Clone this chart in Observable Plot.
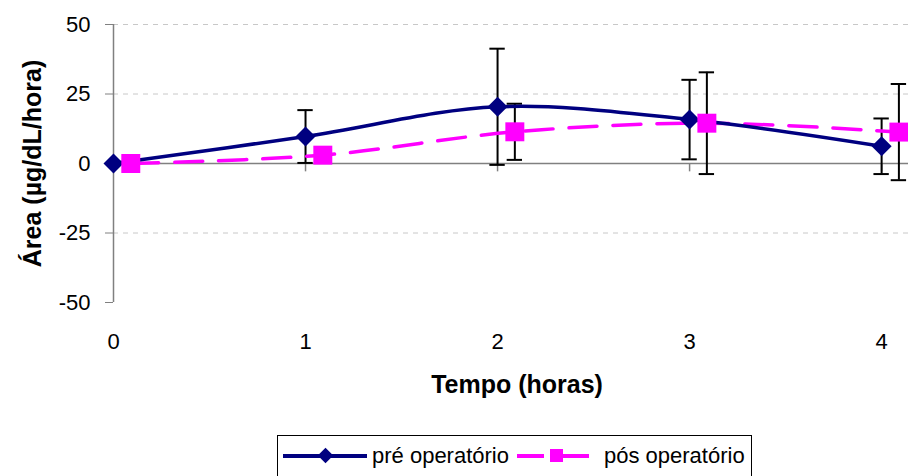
<!DOCTYPE html>
<html>
<head>
<meta charset="utf-8">
<script src="https://cdn.jsdelivr.net/npm/d3@7"></script>
<script src="https://cdn.jsdelivr.net/npm/@observablehq/plot@0.6"></script>
<style>
  body { margin: 0; background: #fff; font-family: "Liberation Sans", Arial, sans-serif; }
  #wrap { position: relative; width: 908px; height: 476px; overflow: hidden; }
  #legend { position: absolute; left: 277px; top: 435px; width: 475px; height: 60px; border: 1px solid #000; box-sizing: border-box; background: #fff; }
  .abs { position: absolute; }
  .lbl { position: absolute; font-size: 22px; line-height: 22px; color: #000; white-space: nowrap; }
</style>
</head>
<body>
<div id="wrap">
  <div id="chart"></div>
  <div id="legend">
    <div class="abs" style="left:5px; top:18px; width:84px; height:4px; background:#000080;"></div>
    <div class="abs" style="left:42px; top:14px; width:11px; height:11px; background:#000080; transform:rotate(45deg);"></div>
    <div class="lbl" id="lab0" style="left:94px; top:9px;"></div>
    <div class="abs" style="left:239px; top:18px; width:27px; height:4px; background:#ff00ff;"></div>
    <div class="abs" style="left:272px; top:13px; width:13px; height:13px; background:#ff00ff;"></div>
    <div class="abs" style="left:284px; top:18px; width:27px; height:4px; background:#ff00ff;"></div>
    <div class="lbl" id="lab1" style="left:326px; top:9px;"></div>
  </div>
</div>
<script>
// ---- data ----
const seriesNames = ["pré operatório", "pós operatório"];
const hours = [0, 1, 2, 3, 4];
const posHours = [0.09, 1.09, 2.09, 3.09, 4.09];
const preMean = [0, 9.7, 20.4, 15.8, 6.2];
const preErr = [0, 9.5, 20.9, 14.3, 10.0];
const posMean = [0, 3.0, 11.4, 14.5, 11.3];
const posErr = [0, 0, 10.1, 18.3, 17.3];
const yTicks = [-50, -25, 0, 25, 50];
const xTicks = [0, 1, 2, 3, 4];
const gridValues = [50, 25, -25];
const yTitle = "Área (µg/dL/hora)";
const xTitle = "Tempo (horas)";

const pre = hours.map((t, i) => ({t, v: preMean[i], e: preErr[i]}));
const pos = posHours.map((t, i) => ({t, v: posMean[i], e: posErr[i]}));
const errs = [...pre, ...pos].filter(d => d.e > 0);
const capHalf = 0.04;

document.getElementById("lab0").textContent = seriesNames[0];
document.getElementById("lab1").textContent = seriesNames[1];

const chart = Plot.plot({
  width: 908,
  height: 430,
  marginLeft: 113,
  marginRight: 0,
  marginTop: 24,
  marginBottom: 128,
  style: {fontFamily: "Liberation Sans, Arial, sans-serif", fontSize: "22px", background: "#fff", color: "#000"},
  x: {domain: [0, 4.14]},
  y: {domain: [-50, 50]},
  marks: [
    Plot.ruleY(gridValues, {stroke: "#c8c8c8", strokeDasharray: "5,5", strokeWidth: 1}),
    Plot.ruleY([0], {stroke: "#808080", strokeWidth: 1.5}),
    Plot.ruleX([0], {y1: -50, y2: 50, stroke: "#808080", strokeWidth: 1.5}),
    Plot.ruleX(xTicks.slice(1), {x: d => d, y1: 0, y2: -3, stroke: "#808080", strokeWidth: 1.5}),
    Plot.axisY({ticks: yTicks, tickSize: 8, tickPadding: 15, fontSize: 22, stroke: "#808080", label: null, tickFormat: d => String(d)}),
    Plot.axisX({ticks: xTicks, tickSize: 0, tickPadding: 31, fontSize: 22, label: null, tickFormat: d => String(d)}),
    // error bars
    Plot.ruleX(errs, {x: "t", y1: d => d.v - d.e, y2: d => d.v + d.e, stroke: "#000", strokeWidth: 2}),
    Plot.ruleY(errs, {y: d => d.v + d.e, x1: d => d.t - capHalf, x2: d => d.t + capHalf, stroke: "#000", strokeWidth: 2}),
    Plot.ruleY(errs, {y: d => d.v - d.e, x1: d => d.t - capHalf, x2: d => d.t + capHalf, stroke: "#000", strokeWidth: 2}),
    // lines
    Plot.line(pos, {x: "t", y: "v", stroke: "#ff00ff", strokeWidth: 3.5, strokeDasharray: "28,16", curve: "catmull-rom"}),
    Plot.line(pre, {x: "t", y: "v", stroke: "#000080", strokeWidth: 3.5, curve: "catmull-rom"}),
    // markers
    Plot.dot(pre, {x: "t", y: "v", symbol: "diamond2", r: 9, fill: "#000080", stroke: "none"}),
    Plot.dot(pos, {x: "t", y: "v", symbol: "square", r: 10.7, fill: "#ff00ff", stroke: "none"}),
    // titles
    Plot.text([yTitle], {frameAnchor: "left", rotate: -90, dx: -81, fontWeight: "bold", fontSize: 25, textAnchor: "middle", lineAnchor: "middle"}),
    Plot.text([xTitle], {frameAnchor: "bottom", dy: 82, dx: 6, fontWeight: "bold", fontSize: 25, textAnchor: "middle", lineAnchor: "middle"})
  ]
});
document.getElementById("chart").appendChild(chart);
</script>
</body>
</html>
